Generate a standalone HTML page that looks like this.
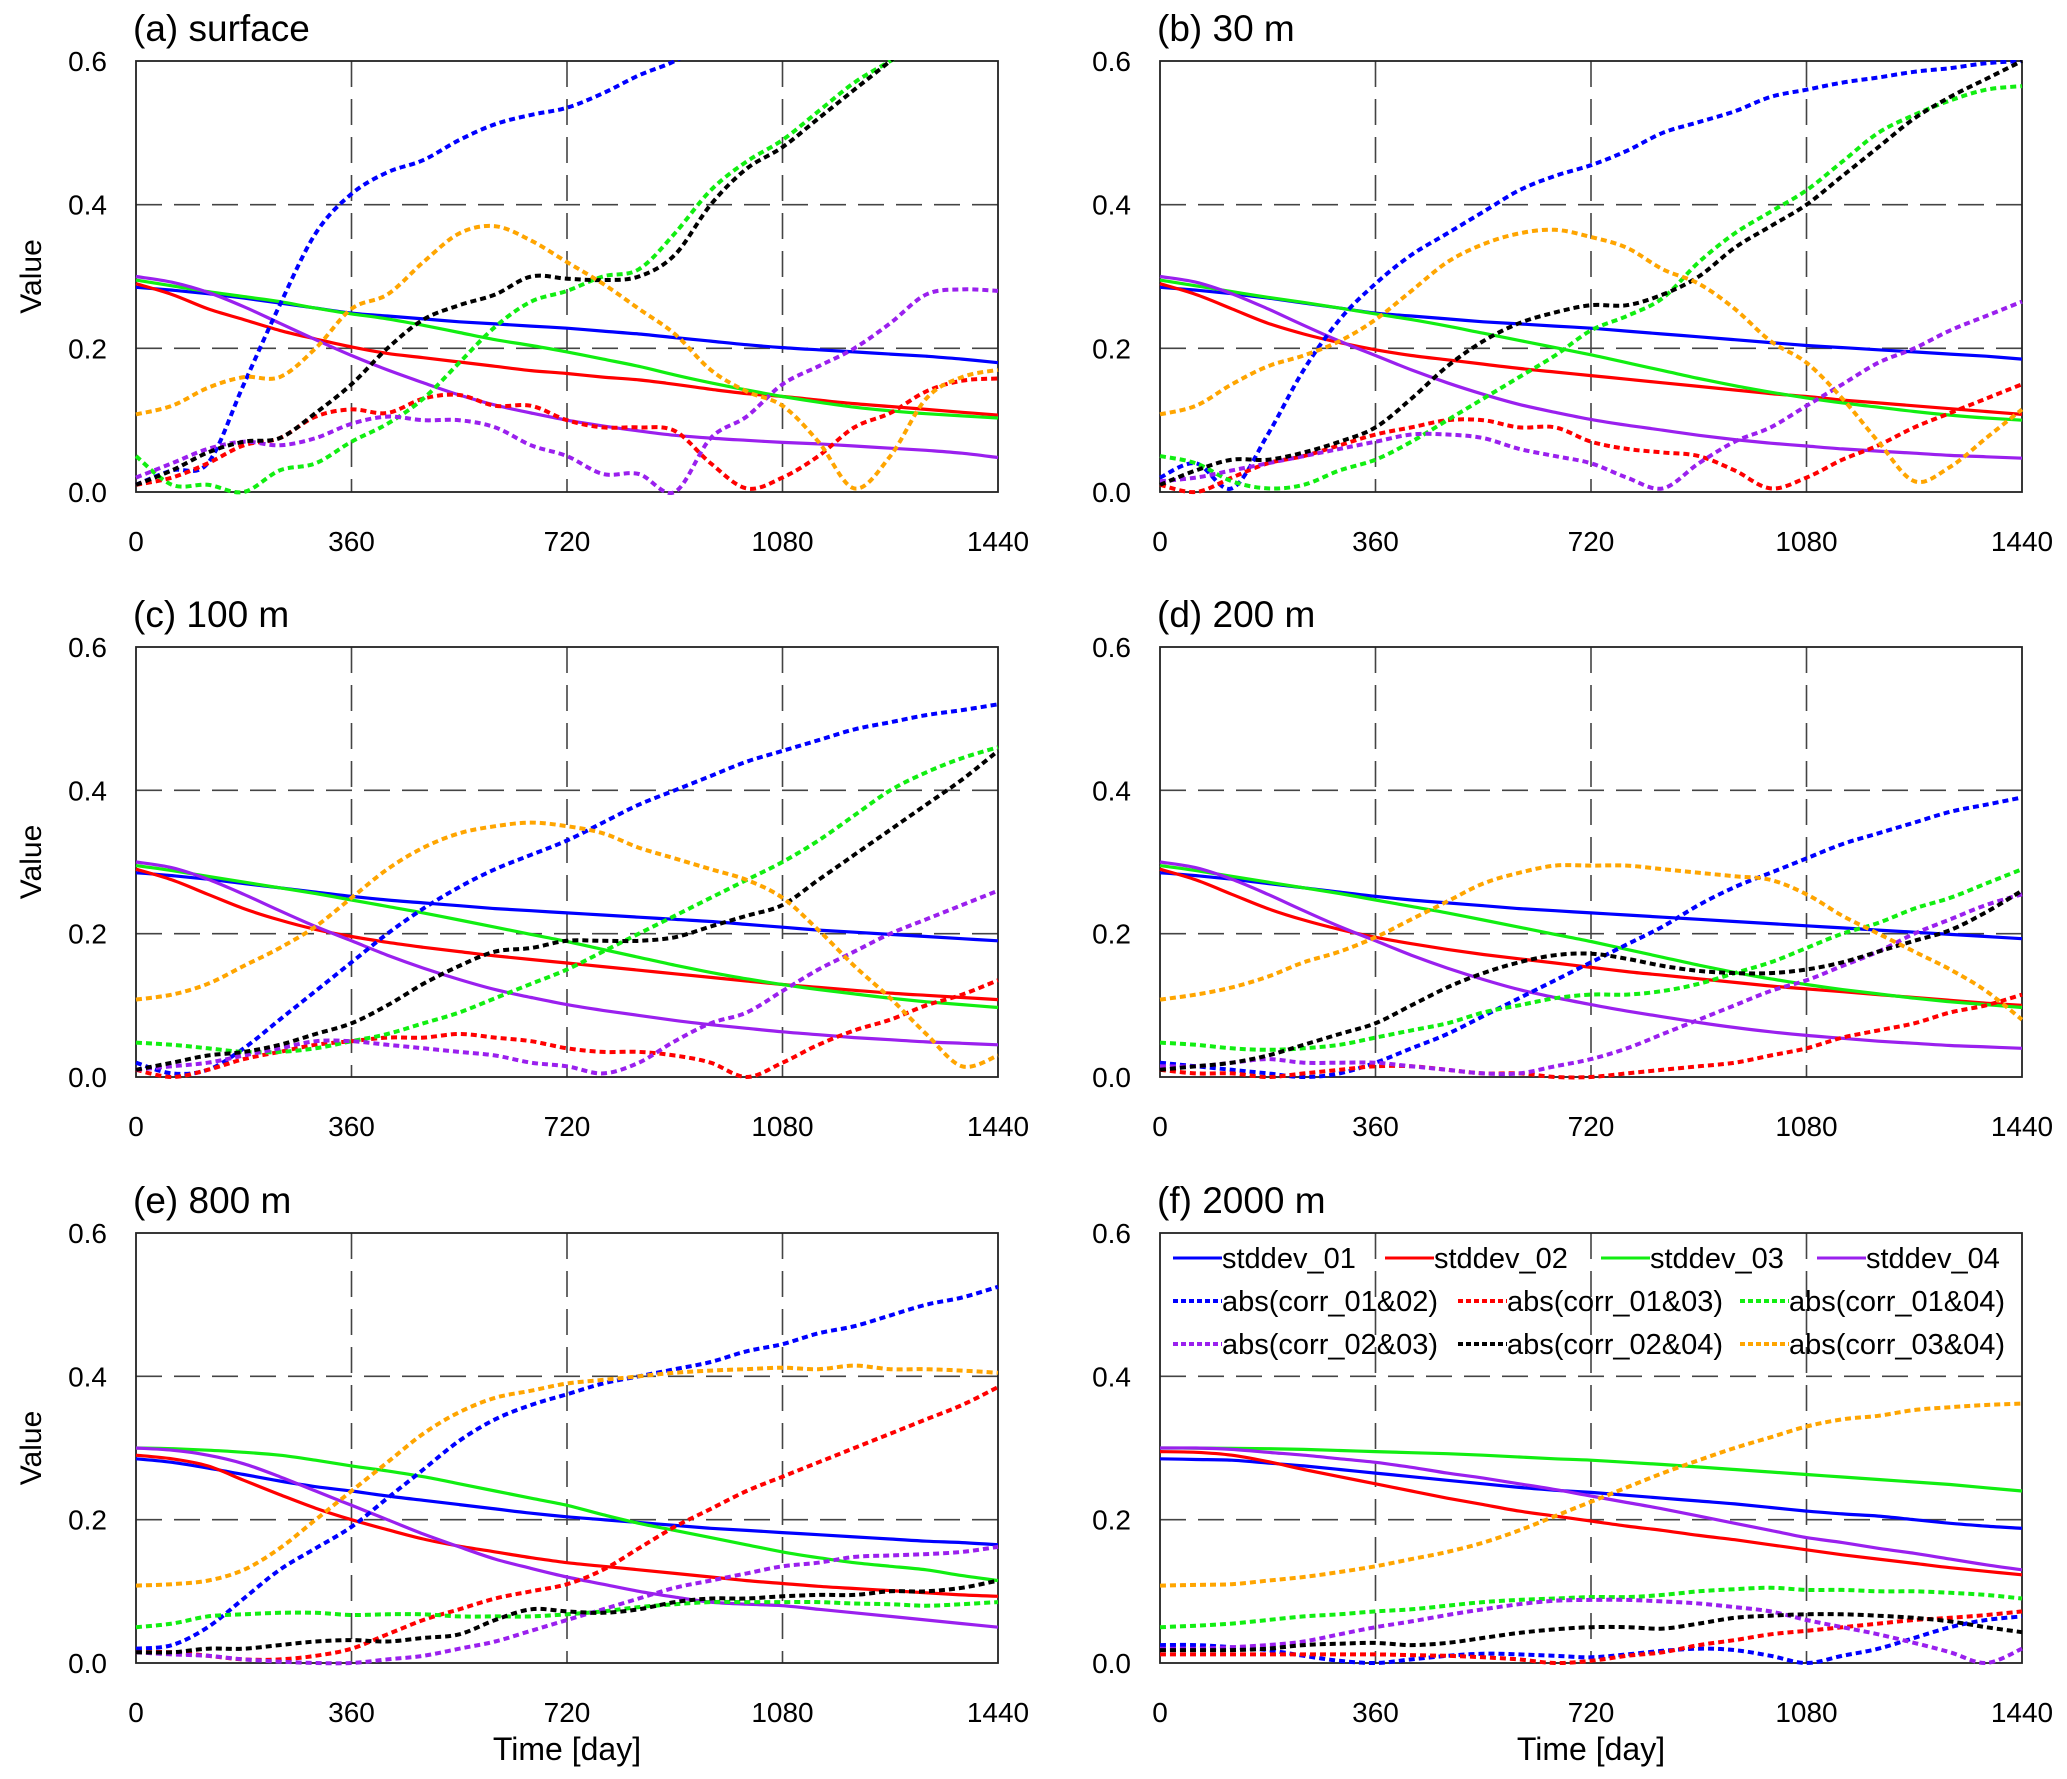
<!DOCTYPE html>
<html><head><meta charset="utf-8"><style>
html,body{margin:0;padding:0;background:#fff}
svg{display:block}
text{font-family:"Liberation Sans",Arial,sans-serif;fill:#000}
</style></head><body>
<svg id="fig" width="2067" height="1779" viewBox="0 0 2067 1779" xmlns="http://www.w3.org/2000/svg"></svg>
<script>
// ---- data (values at equally spaced days 0..1440) ----
const xTicks = [0, 360, 720, 1080, 1440];
const yTicks = [0.0, 0.2, 0.4, 0.6];
const yTickLabels = ["0.0", "0.2", "0.4", "0.6"];
const panelTitles = ["(a) surface", "(b) 30 m", "(c) 100 m", "(d) 200 m", "(e) 800 m", "(f) 2000 m"];
const seriesNames = ["stddev_01","stddev_02","stddev_03","stddev_04","abs(corr_01&02)","abs(corr_01&03)","abs(corr_01&04)","abs(corr_02&03)","abs(corr_02&04)","abs(corr_03&04)"];

// panel a
const a_s1 = [0.285,0.281,0.276,0.270,0.263,0.256,0.249,0.245,0.241,0.237,0.234,0.231,0.228,0.224,0.220,0.215,0.210,0.205,0.201,0.198,0.195,0.192,0.189,0.185,0.180];
const a_s2 = [0.29,0.275,0.255,0.24,0.225,0.213,0.202,0.193,0.187,0.181,0.175,0.169,0.165,0.160,0.156,0.150,0.143,0.137,0.133,0.128,0.123,0.119,0.115,0.111,0.107];
const a_s3 = [0.295,0.287,0.279,0.272,0.265,0.256,0.248,0.241,0.232,0.222,0.212,0.204,0.195,0.185,0.175,0.163,0.152,0.142,0.133,0.125,0.118,0.113,0.109,0.106,0.103];
const a_s4 = [0.30,0.292,0.278,0.258,0.235,0.212,0.19,0.17,0.152,0.135,0.121,0.11,0.1,0.092,0.085,0.079,0.075,0.072,0.069,0.067,0.064,0.061,0.058,0.054,0.048];
const a_c12 = [0.01,0.03,0.04,0.15,0.26,0.36,0.415,0.445,0.462,0.49,0.512,0.525,0.535,0.555,0.58,0.6,0.63,0.66,0.69,0.72,0.75,0.78,0.8,0.82,0.84];
const a_c13 = [0.01,0.02,0.04,0.065,0.075,0.105,0.115,0.11,0.13,0.135,0.12,0.12,0.1,0.09,0.09,0.085,0.04,0.005,0.02,0.05,0.09,0.11,0.14,0.155,0.158];
const a_c14 = [0.05,0.01,0.01,0.0,0.03,0.04,0.07,0.095,0.13,0.18,0.23,0.265,0.28,0.3,0.31,0.36,0.42,0.46,0.49,0.53,0.57,0.6,0.63,0.66,0.69];
const a_c23 = [0.02,0.04,0.06,0.07,0.065,0.075,0.095,0.105,0.1,0.1,0.09,0.065,0.05,0.025,0.025,0.0,0.075,0.105,0.15,0.175,0.2,0.235,0.275,0.282,0.28];
const a_c24 = [0.01,0.03,0.055,0.07,0.075,0.11,0.15,0.2,0.24,0.26,0.275,0.3,0.297,0.295,0.3,0.33,0.4,0.45,0.48,0.52,0.56,0.6,0.64,0.68,0.72];
const a_c34 = [0.108,0.12,0.145,0.16,0.16,0.2,0.255,0.275,0.32,0.36,0.37,0.35,0.32,0.29,0.255,0.22,0.17,0.14,0.12,0.07,0.005,0.05,0.13,0.16,0.17];
// panel b
const b_s1 = [0.285,0.281,0.276,0.270,0.263,0.256,0.249,0.245,0.241,0.237,0.234,0.231,0.228,0.224,0.220,0.216,0.212,0.208,0.204,0.201,0.198,0.195,0.192,0.189,0.185];
const b_s2 = [0.29,0.275,0.255,0.235,0.22,0.208,0.198,0.19,0.184,0.178,0.172,0.167,0.162,0.157,0.152,0.147,0.142,0.137,0.133,0.128,0.124,0.12,0.116,0.112,0.108];
const b_s3 = [0.295,0.287,0.279,0.271,0.264,0.256,0.248,0.240,0.231,0.221,0.211,0.201,0.191,0.180,0.169,0.158,0.148,0.139,0.131,0.124,0.118,0.112,0.107,0.103,0.10];
const b_s4 = [0.30,0.292,0.276,0.255,0.232,0.21,0.19,0.17,0.152,0.136,0.122,0.111,0.101,0.093,0.086,0.079,0.073,0.068,0.064,0.06,0.057,0.054,0.051,0.049,0.047];
const b_c12 = [0.02,0.04,0.005,0.08,0.17,0.24,0.29,0.33,0.36,0.39,0.42,0.44,0.455,0.475,0.5,0.515,0.53,0.55,0.56,0.57,0.577,0.585,0.59,0.597,0.6];
const b_c13 = [0.01,0.0,0.02,0.04,0.05,0.065,0.08,0.09,0.1,0.1,0.09,0.09,0.07,0.06,0.055,0.05,0.03,0.005,0.02,0.045,0.065,0.09,0.11,0.13,0.15];
const b_c14 = [0.05,0.04,0.015,0.005,0.01,0.03,0.045,0.07,0.1,0.13,0.16,0.19,0.225,0.245,0.27,0.32,0.36,0.39,0.42,0.46,0.5,0.525,0.545,0.56,0.565];
const b_c23 = [0.015,0.02,0.03,0.04,0.05,0.06,0.07,0.08,0.08,0.075,0.06,0.05,0.04,0.02,0.005,0.04,0.07,0.09,0.12,0.15,0.18,0.2,0.225,0.245,0.265];
const b_c24 = [0.01,0.03,0.045,0.045,0.055,0.07,0.09,0.13,0.175,0.21,0.235,0.25,0.26,0.26,0.275,0.3,0.34,0.37,0.4,0.44,0.48,0.52,0.55,0.575,0.6];
const b_c34 = [0.108,0.12,0.15,0.175,0.19,0.21,0.24,0.28,0.32,0.345,0.36,0.365,0.355,0.34,0.31,0.29,0.255,0.21,0.18,0.13,0.07,0.015,0.035,0.075,0.115];
// panel c
const c_s1 = [0.285,0.281,0.276,0.270,0.264,0.258,0.252,0.247,0.243,0.239,0.235,0.232,0.229,0.226,0.223,0.220,0.217,0.213,0.209,0.205,0.202,0.199,0.196,0.193,0.19];
const c_s2 = [0.29,0.275,0.255,0.235,0.219,0.206,0.196,0.188,0.181,0.175,0.169,0.164,0.159,0.154,0.149,0.144,0.139,0.134,0.129,0.125,0.121,0.117,0.114,0.111,0.108];
const c_s3 = [0.295,0.288,0.28,0.272,0.264,0.256,0.247,0.238,0.229,0.219,0.209,0.199,0.189,0.178,0.167,0.156,0.146,0.137,0.129,0.122,0.116,0.11,0.105,0.101,0.097];
const c_s4 = [0.30,0.292,0.276,0.255,0.232,0.21,0.19,0.17,0.152,0.136,0.122,0.111,0.101,0.093,0.086,0.079,0.073,0.068,0.063,0.059,0.055,0.052,0.049,0.047,0.045];
const c_c12 = [0.02,0.005,0.01,0.04,0.08,0.12,0.16,0.2,0.235,0.265,0.29,0.31,0.33,0.355,0.38,0.4,0.42,0.44,0.455,0.47,0.485,0.495,0.505,0.512,0.52];
const c_c13 = [0.01,0.0,0.01,0.025,0.035,0.045,0.05,0.055,0.055,0.06,0.055,0.05,0.04,0.035,0.035,0.03,0.02,0.0,0.02,0.045,0.065,0.08,0.1,0.115,0.135];
const c_c14 = [0.048,0.045,0.04,0.035,0.035,0.04,0.05,0.06,0.075,0.09,0.11,0.13,0.15,0.175,0.2,0.225,0.25,0.275,0.3,0.33,0.365,0.4,0.425,0.445,0.46];
const c_c23 = [0.01,0.015,0.02,0.03,0.04,0.05,0.05,0.045,0.04,0.035,0.03,0.02,0.015,0.005,0.02,0.05,0.075,0.09,0.12,0.15,0.175,0.2,0.22,0.24,0.26];
const c_c24 = [0.01,0.02,0.03,0.035,0.045,0.06,0.075,0.1,0.13,0.155,0.175,0.18,0.19,0.19,0.19,0.195,0.21,0.225,0.24,0.275,0.31,0.345,0.38,0.415,0.455];
const c_c34 = [0.108,0.115,0.13,0.155,0.18,0.21,0.25,0.29,0.32,0.34,0.35,0.355,0.35,0.34,0.32,0.305,0.29,0.275,0.25,0.205,0.155,0.11,0.06,0.015,0.03];
// panel d
const d_s1 = [0.285,0.281,0.276,0.270,0.264,0.258,0.252,0.247,0.243,0.239,0.235,0.232,0.229,0.226,0.223,0.220,0.217,0.214,0.211,0.208,0.205,0.202,0.199,0.196,0.193];
const d_s2 = [0.29,0.275,0.255,0.235,0.219,0.206,0.195,0.186,0.178,0.171,0.165,0.159,0.153,0.147,0.142,0.137,0.132,0.127,0.123,0.119,0.115,0.111,0.107,0.103,0.10];
const d_s3 = [0.295,0.288,0.28,0.272,0.264,0.256,0.247,0.238,0.229,0.219,0.209,0.199,0.189,0.178,0.167,0.156,0.146,0.137,0.129,0.122,0.116,0.11,0.105,0.101,0.097];
const d_s4 = [0.30,0.292,0.276,0.255,0.232,0.21,0.19,0.17,0.152,0.136,0.122,0.111,0.101,0.092,0.084,0.076,0.069,0.063,0.058,0.054,0.05,0.047,0.044,0.042,0.04];
const d_c12 = [0.02,0.015,0.01,0.005,0.0,0.005,0.02,0.04,0.06,0.085,0.11,0.135,0.16,0.185,0.21,0.24,0.265,0.285,0.305,0.325,0.34,0.355,0.37,0.38,0.39];
const d_c13 = [0.01,0.005,0.005,0.0,0.005,0.01,0.015,0.015,0.01,0.005,0.005,0.0,0.0,0.005,0.01,0.015,0.02,0.03,0.04,0.055,0.065,0.075,0.09,0.1,0.115];
const d_c14 = [0.048,0.045,0.04,0.038,0.04,0.045,0.055,0.065,0.075,0.09,0.1,0.11,0.115,0.115,0.12,0.13,0.145,0.16,0.18,0.2,0.215,0.235,0.25,0.27,0.29];
const d_c23 = [0.015,0.015,0.02,0.025,0.02,0.02,0.02,0.015,0.01,0.005,0.005,0.015,0.025,0.04,0.06,0.08,0.1,0.12,0.135,0.155,0.175,0.2,0.22,0.24,0.255];
const d_c24 = [0.01,0.015,0.02,0.03,0.045,0.06,0.075,0.1,0.125,0.145,0.16,0.17,0.172,0.165,0.155,0.148,0.145,0.145,0.15,0.16,0.175,0.19,0.205,0.23,0.26];
const d_c34 = [0.108,0.115,0.125,0.14,0.16,0.175,0.195,0.22,0.245,0.27,0.285,0.295,0.295,0.295,0.29,0.285,0.28,0.275,0.255,0.225,0.2,0.175,0.15,0.12,0.08];
// panel e
const e_s1 = [0.285,0.28,0.272,0.263,0.254,0.246,0.24,0.233,0.227,0.221,0.215,0.209,0.204,0.2,0.196,0.192,0.188,0.185,0.182,0.179,0.176,0.173,0.17,0.168,0.165];
const e_s2 = [0.29,0.285,0.275,0.255,0.235,0.216,0.2,0.186,0.173,0.163,0.155,0.147,0.14,0.135,0.13,0.125,0.12,0.115,0.111,0.107,0.104,0.101,0.098,0.095,0.093];
const e_s3 = [0.30,0.299,0.297,0.294,0.29,0.283,0.275,0.268,0.26,0.25,0.24,0.23,0.22,0.207,0.195,0.185,0.175,0.165,0.155,0.147,0.14,0.135,0.13,0.122,0.115];
const e_s4 = [0.30,0.297,0.29,0.278,0.26,0.24,0.22,0.2,0.18,0.162,0.145,0.132,0.12,0.11,0.1,0.092,0.085,0.082,0.08,0.075,0.07,0.065,0.06,0.055,0.05];
const e_c12 = [0.02,0.025,0.05,0.09,0.13,0.16,0.19,0.23,0.27,0.31,0.34,0.36,0.375,0.39,0.4,0.41,0.42,0.435,0.445,0.46,0.47,0.485,0.5,0.51,0.525];
const e_c13 = [0.015,0.015,0.01,0.005,0.005,0.01,0.02,0.04,0.06,0.075,0.09,0.1,0.11,0.13,0.16,0.19,0.215,0.24,0.26,0.28,0.3,0.32,0.34,0.36,0.385];
const e_c14 = [0.05,0.055,0.065,0.068,0.07,0.07,0.067,0.068,0.068,0.065,0.065,0.065,0.068,0.072,0.078,0.082,0.085,0.085,0.085,0.085,0.083,0.082,0.08,0.082,0.085];
const e_c23 = [0.015,0.012,0.01,0.005,0.002,0.0,0.0,0.005,0.01,0.02,0.03,0.045,0.06,0.075,0.09,0.105,0.115,0.125,0.135,0.14,0.148,0.15,0.152,0.155,0.162];
const e_c24 = [0.015,0.015,0.02,0.02,0.025,0.03,0.032,0.03,0.035,0.04,0.06,0.075,0.072,0.07,0.075,0.085,0.09,0.09,0.093,0.095,0.095,0.1,0.1,0.105,0.115];
const e_c34 = [0.108,0.11,0.115,0.13,0.16,0.2,0.24,0.28,0.32,0.35,0.37,0.38,0.39,0.395,0.4,0.405,0.408,0.41,0.412,0.41,0.415,0.41,0.41,0.408,0.405];
// panel f
const f_s1 = [0.285,0.284,0.283,0.279,0.275,0.27,0.265,0.26,0.255,0.25,0.245,0.241,0.238,0.234,0.23,0.226,0.222,0.217,0.212,0.208,0.205,0.2,0.195,0.191,0.188];
const f_s2 = [0.295,0.294,0.29,0.281,0.27,0.26,0.25,0.24,0.23,0.221,0.212,0.205,0.198,0.191,0.185,0.178,0.172,0.165,0.158,0.151,0.145,0.139,0.133,0.128,0.123];
const f_s3 = [0.30,0.2998,0.2995,0.299,0.298,0.2965,0.295,0.2935,0.292,0.29,0.2875,0.285,0.283,0.28,0.277,0.2735,0.27,0.2665,0.263,0.2595,0.256,0.2525,0.249,0.2445,0.24];
const f_s4 = [0.30,0.3,0.298,0.294,0.29,0.285,0.28,0.273,0.265,0.258,0.25,0.242,0.233,0.224,0.215,0.205,0.195,0.185,0.175,0.168,0.16,0.153,0.145,0.137,0.13];
const f_c12 = [0.025,0.025,0.022,0.018,0.01,0.003,0.0,0.005,0.01,0.013,0.012,0.01,0.008,0.012,0.017,0.02,0.018,0.01,0.0,0.01,0.02,0.035,0.05,0.06,0.065];
const f_c13 = [0.012,0.012,0.012,0.012,0.012,0.012,0.012,0.011,0.01,0.008,0.005,0.0,0.003,0.01,0.015,0.025,0.032,0.04,0.045,0.05,0.055,0.06,0.063,0.067,0.072];
const f_c14 = [0.05,0.052,0.055,0.06,0.065,0.068,0.072,0.075,0.08,0.085,0.088,0.09,0.092,0.092,0.095,0.1,0.103,0.105,0.102,0.102,0.1,0.1,0.098,0.095,0.09];
const f_c23 = [0.02,0.02,0.022,0.025,0.03,0.04,0.05,0.058,0.067,0.075,0.082,0.087,0.088,0.088,0.086,0.083,0.078,0.072,0.06,0.05,0.04,0.028,0.015,0.0,0.02];
const f_c24 = [0.018,0.018,0.018,0.02,0.025,0.027,0.028,0.025,0.028,0.035,0.042,0.047,0.05,0.05,0.048,0.055,0.063,0.066,0.068,0.068,0.066,0.063,0.058,0.05,0.043];
const f_c34 = [0.108,0.109,0.11,0.115,0.12,0.127,0.135,0.145,0.155,0.168,0.185,0.205,0.225,0.245,0.265,0.283,0.3,0.315,0.33,0.34,0.345,0.353,0.357,0.36,0.362];

const panelData = [
  [a_s1,a_s2,a_s3,a_s4,a_c12,a_c13,a_c14,a_c23,a_c24,a_c34],
  [b_s1,b_s2,b_s3,b_s4,b_c12,b_c13,b_c14,b_c23,b_c24,b_c34],
  [c_s1,c_s2,c_s3,c_s4,c_c12,c_c13,c_c14,c_c23,c_c24,c_c34],
  [d_s1,d_s2,d_s3,d_s4,d_c12,d_c13,d_c14,d_c23,d_c24,d_c34],
  [e_s1,e_s2,e_s3,e_s4,e_c12,e_c13,e_c14,e_c23,e_c24,e_c34],
  [f_s1,f_s2,f_s3,f_s4,f_c12,f_c13,f_c14,f_c23,f_c24,f_c34]
];

// ---- styles / layout ----
const colors = ["#0000ff","#ff0000","#11ee11","#9a20ee","#0000ff","#ff0000","#11ee11","#9a20ee","#000000","#ffa500"];
const colLeft = [136, 1160], colRight = [998, 2022];
const rowTop = [61, 647, 1233], rowBot = [492, 1077, 1663];
const NS = "http://www.w3.org/2000/svg";
const svg = document.getElementById("fig");

function mk(tag, attrs, parent) {
  const e = document.createElementNS(NS, tag);
  for (const k in attrs) e.setAttribute(k, attrs[k]);
  (parent || svg).appendChild(e);
  return e;
}
function smoothPath(pts) {
  let d = "M" + pts[0][0].toFixed(1) + "," + pts[0][1].toFixed(1);
  for (let i = 0; i < pts.length - 1; i++) {
    const p0 = pts[Math.max(0, i - 1)], p1 = pts[i], p2 = pts[i + 1], p3 = pts[Math.min(pts.length - 1, i + 2)];
    const c1x = p1[0] + (p2[0] - p0[0]) / 6, c1y = p1[1] + (p2[1] - p0[1]) / 6;
    const c2x = p2[0] - (p3[0] - p1[0]) / 6, c2y = p2[1] - (p3[1] - p1[1]) / 6;
    d += "C" + c1x.toFixed(1) + "," + c1y.toFixed(1) + " " + c2x.toFixed(1) + "," + c2y.toFixed(1) + " " + p2[0].toFixed(1) + "," + p2[1].toFixed(1);
  }
  return d;
}

const defs = mk("defs", {});
for (let p = 0; p < 6; p++) {
  const col = p % 2, row = Math.floor(p / 2);
  const L = colLeft[col], R = colRight[col], T = rowTop[row], B = rowBot[row];
  const xs = d => L + (R - L) * d / 1440;
  const ys = v => B - (B - T) * v / 0.6;

  const g = mk("g", {});
  
  

  const cp = mk("clipPath", { id: "clip" + p }, defs);
  mk("rect", { x: L - 2, y: T - 1, width: R - L + 4, height: B - T + 4 }, cp);

  for (const t of xTicks.slice(1, 4)) {
    const gl = mk("line", { x1: xs(t), x2: xs(t), y1: T, y2: B, stroke: "#444", "stroke-width": 1.6, "stroke-dasharray": "26 12" }, g);
    
    
  }
  for (const t of yTicks.slice(1, 3)) {
    const gl = mk("line", { x1: L, x2: R, y1: ys(t), y2: ys(t), stroke: "#444", "stroke-width": 1.6, "stroke-dasharray": "26 12" }, g);
    
    
  }
  const fr = mk("rect", { x: L, y: T, width: R - L, height: B - T, fill: "none", stroke: "#222", "stroke-width": 1.8 }, g);
  
  

  yTicks.forEach((t, i) => {
    const tx = mk("text", { x: 107, y: ys(t) + 10, "text-anchor": "end", "font-size": 28 }, g);
    if (col === 1) tx.setAttribute("x", 1131);
    tx.textContent = yTickLabels[i];
    
    
  });
  xTicks.forEach(t => {
    const tx = mk("text", { x: xs(t), y: B + 59, "text-anchor": "middle", "font-size": 28 }, g);
    tx.textContent = String(t);
    
    
  });
  const ti = mk("text", { x: L - 3, y: T - 20, "font-size": 37 }, g);
  ti.textContent = panelTitles[p];
  
  

  if (col === 0) {
    const yl = mk("text", { x: 0, y: 0, "text-anchor": "middle", "font-size": 30, transform: "translate(41," + ((T + B) / 2) + ") rotate(-90)" }, g);
    yl.textContent = "Value";
    
    
  }
  if (row === 2) {
    const xl = mk("text", { x: (L + R) / 2, y: 1760, "text-anchor": "middle", "font-size": 32 }, g);
    xl.textContent = "Time [day]";
    
    
  }

  const sg = mk("g", { "clip-path": "url(#clip" + p + ")" }, g);
  for (let s = 0; s < 10; s++) {
    const vals = panelData[p][s];
    const n = vals.length;
    const pts = vals.map((v, i) => [xs(i * 1440 / (n - 1)), ys(v)]);
    const dotted = s >= 4;
    const path = mk("path", {
      d: smoothPath(pts), fill: "none", stroke: colors[s],
      "stroke-width": dotted ? 4 : 3.2,
      "stroke-dasharray": dotted ? "6 4" : "none",
      "stroke-linejoin": "round"
    }, sg);
    
    
  }
}

// legend in panel f
const legX = [[1173, 1385, 1601, 1817], [1173, 1458, 1740], [1173, 1458, 1740]];
const legY = [1258, 1301, 1344];
const legendG = mk("g", {});


let si = 0;
for (let r = 0; r < 3; r++) {
  for (let c = 0; c < legX[r].length; c++) {
    const x = legX[r][c], y = legY[r], dotted = si >= 4;
    const eg = mk("g", {}, legendG);
    
    
    mk("line", { x1: x, x2: x + 49, y1: y, y2: y, stroke: colors[si], "stroke-width": dotted ? 4 : 3, "stroke-dasharray": dotted ? "5 3" : "none" }, eg);
    const t = mk("text", { x: x + 49, y: y + 10, "font-size": 29 }, eg);
    t.textContent = seriesNames[si];
    si++;
  }
}
</script>
</body></html>
